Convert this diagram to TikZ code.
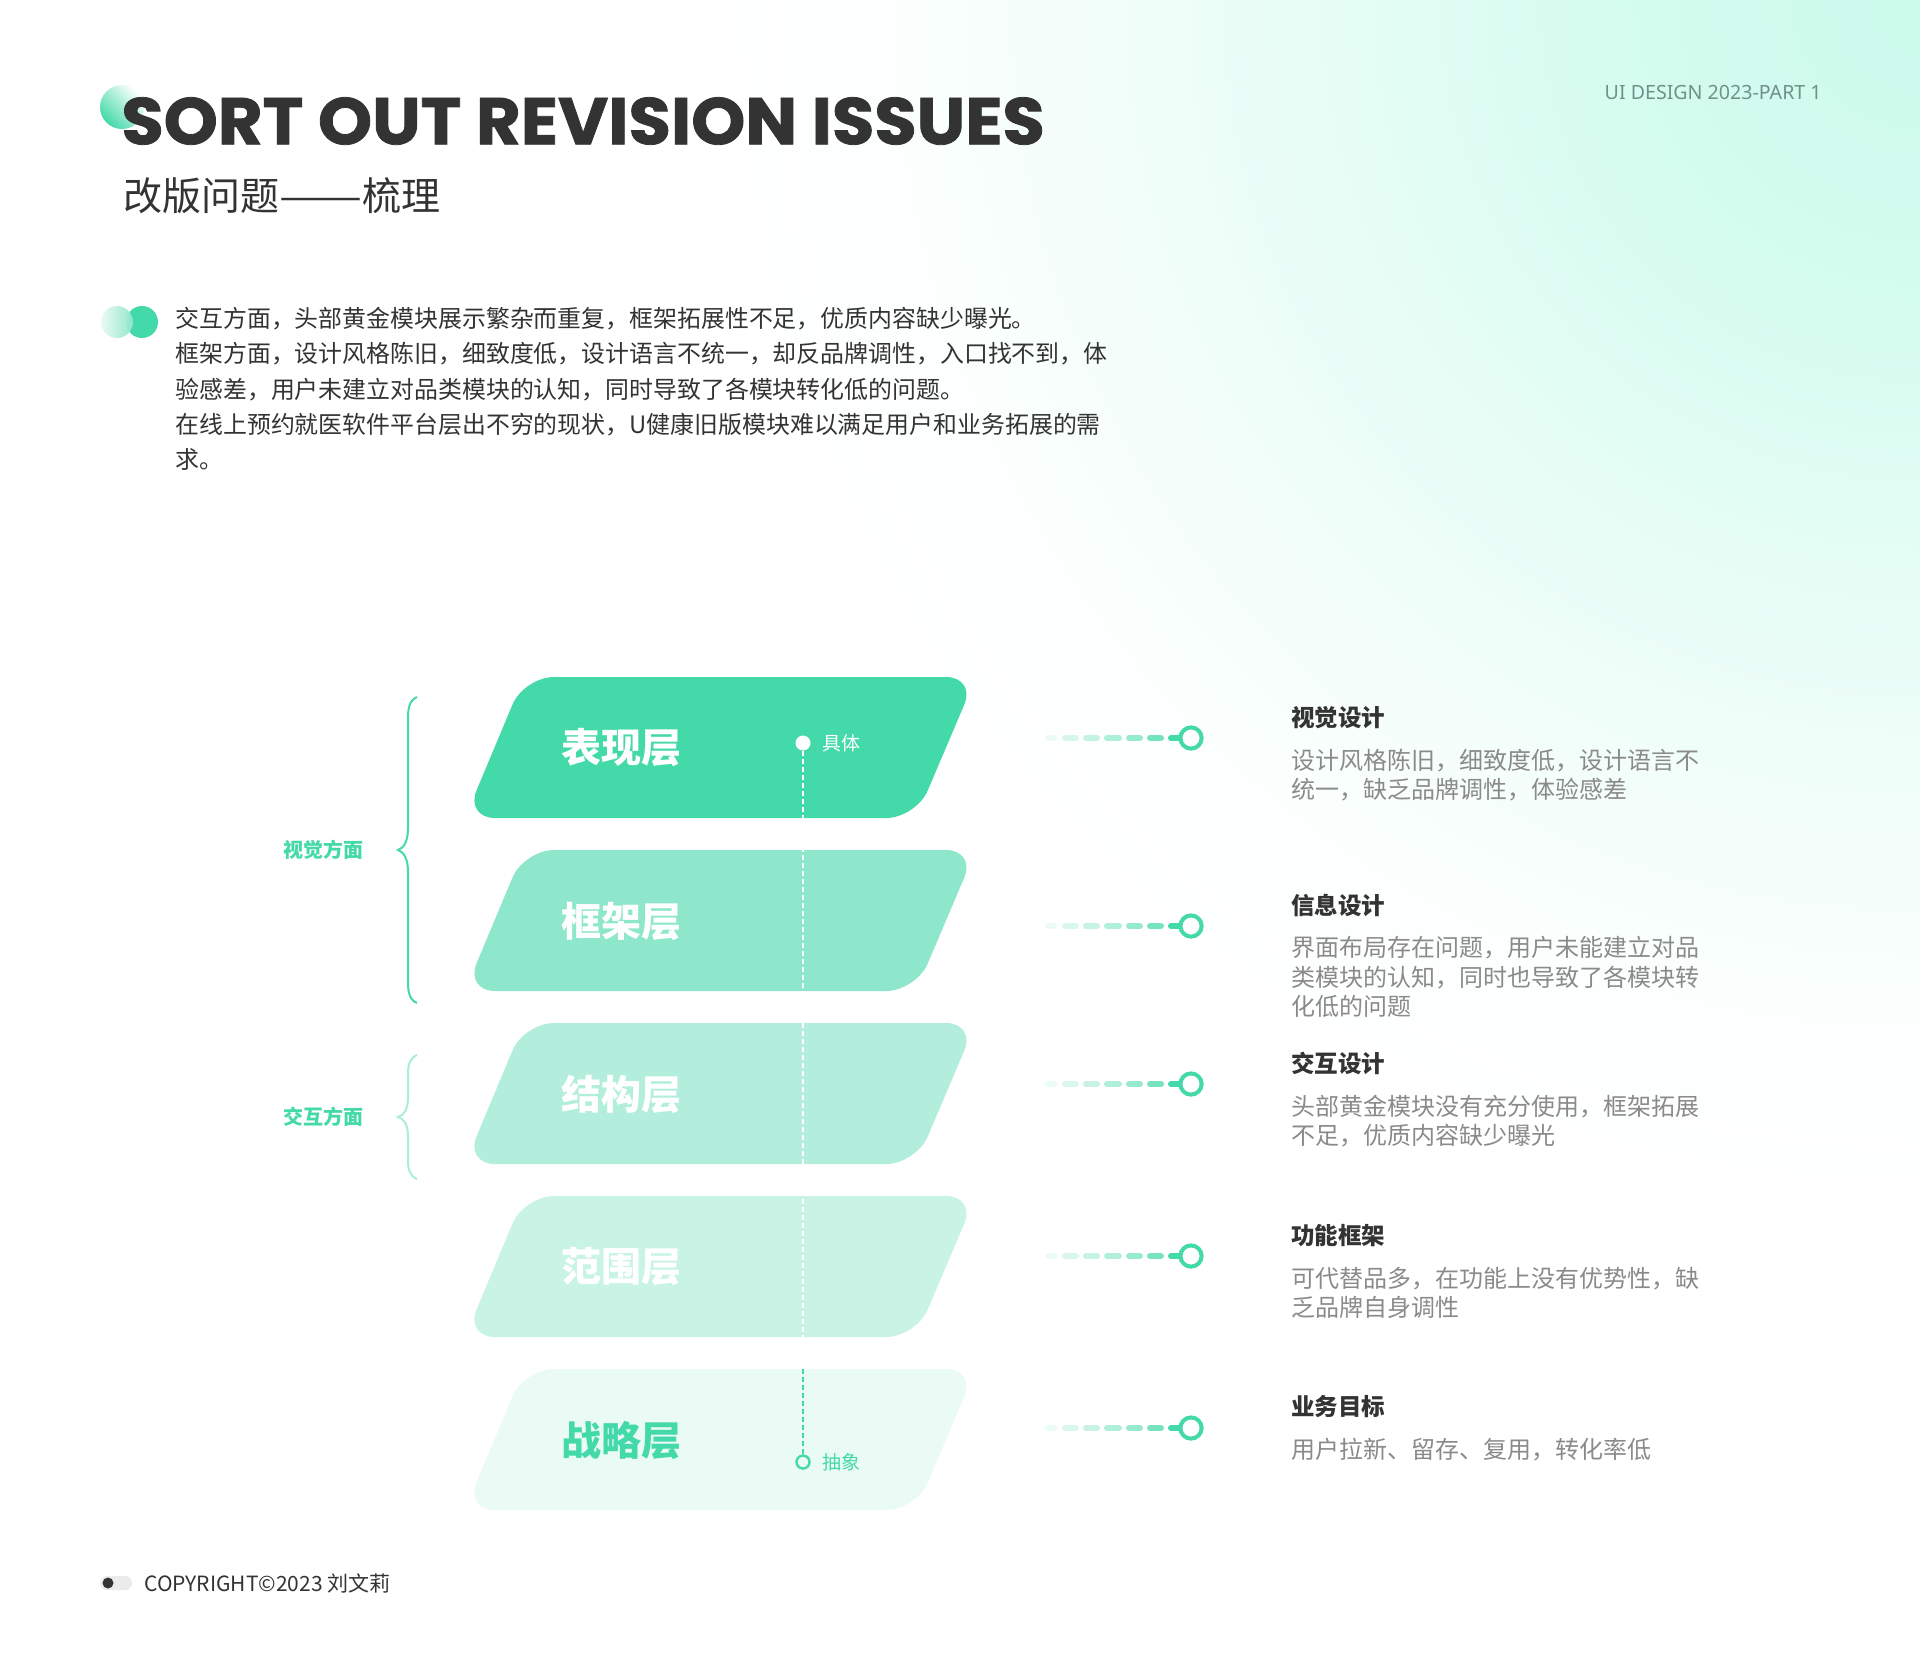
\documentclass[tikz,border=0pt]{standalone}
\usepackage{fontspec}
\setmainfont{Noto Sans CJK SC}
\newfontfamily\pop{Poppins}[BoldFeatures={FakeBold=1.2}]
\newfontfamily\nsans{Noto Sans}
\usetikzlibrary{calc}
\definecolor{g1}{HTML}{43D9A8}
\definecolor{g2}{HTML}{8EE7CA}
\definecolor{g3}{HTML}{B2EEDB}
\definecolor{g4}{HTML}{C8F3E5}
\definecolor{g5}{HTML}{EAFAF5}
\definecolor{mint}{HTML}{CCFBEC}
\definecolor{dark}{HTML}{333333}
\definecolor{gray1}{HTML}{8A8A8A}
\definecolor{tealgray}{HTML}{71908A}
\definecolor{pill}{HTML}{EBEBEB}
\pgfdeclareradialshading{bgfade}{\pgfpoint{0bp}{0bp}}{color(0bp)=(mint); color(6bp)=(mint!85!white); color(13bp)=(mint!45!white); color(20bp)=(mint!12!white); color(25bp)=(white); color(50bp)=(white)}
\tikzset{
  layer/.style={rounded corners=15pt},
  laytext/.style={font=\bfseries\fontsize{20}{24}\selectfont, inner sep=0},
  dotlab/.style={font=\fontsize{9.5}{11}\selectfont, anchor=west, inner sep=0},
  rtitle/.style={font=\bfseries\fontsize{11.75}{13}\selectfont, text=dark, anchor=west, inner sep=0},
  rbody/.style={font=\fontsize{12}{14.6}\selectfont, text=gray1, anchor=west, align=left, inner sep=0},
  ring/.style={circle, draw=g1, line width=2pt, fill=white, minimum size=10.6pt, inner sep=0},
  seg/.style={g1, line width=3pt, line cap=round},
  bracepath/.style={g1, line width=1pt},
  sidelab/.style={font=\bfseries\fontsize{10}{12}\selectfont, text=g1, inner sep=0},
}
\begin{document}
\begin{tikzpicture}[x=0.5pt,y=-0.5pt]
\useasboundingbox (0,0) rectangle (1920,1672);
\fill[white] (0,0) rectangle (1920,1672);
\begin{scope}
  \clip (0,0) rectangle (1920,1672);
  \shade[shading=bgfade] (1920,0) circle (1200);
\end{scope}

% title blob and title
\shade[left color=g1, right color=white, shading angle=135] (122,107) circle (22);
\node[anchor=west, inner sep=0, font=\pop\bfseries\fontsize{33}{40}\selectfont, text=dark] (title) at (121,121) {\scalebox{1.043}[1]{SORT OUT REVISION ISSUES}};
\node[anchor=west, inner sep=0, font=\fontsize{19.5}{24}\selectfont, text=dark] (sub) at (123,196) {改版问题\scalebox{1.27}[1]{——}梳理};
\node[anchor=east, inner sep=0, font=\nsans\fontsize{9.8}{12}\selectfont, text=tealgray] (tag) at (1822,92) {UI DESIGN 2023-PART 1};

% paragraph
\fill[g1] (142,322) circle (16);
\shade[left color=g5, right color=g2, opacity=0.95] (117,322) circle (16);
\node[anchor=west, inner sep=0, align=left, font=\fontsize{11.95}{17.6}\selectfont, text=dark] (para) at (175,389) {交互方面，头部黄金模块展示繁杂而重复，框架拓展性不足，优质内容缺少曝光。\\框架方面，设计风格陈旧，细致度低，设计语言不统一，却反品牌调性，入口找不到，体\\验感差，用户未建立对品类模块的认知，同时导致了各模块转化低的问题。\\在线上预约就医软件平台层出不穷的现状，U健康旧版模块难以满足用户和业务拓展的需\\求。};

% layers
\foreach \i/\c/\t/\tc in {0/g1/表现层/white, 1/g2/框架层/white, 2/g3/结构层/white, 3/g4/范围层/white, 4/g5/战略层/g1} {
  \pgfmathsetmacro\yt{677+173*\i}
  \fill[\c, layer] (524,\yt) -- (976,\yt) -- (916,\yt+141) -- (465,\yt+141) -- cycle;
  \node[laytext, text=\tc] (L\i) at (621,\yt+71) {\t};
}

% vertical dashed axis
\node[circle, fill=white, inner sep=0, minimum size=7.5pt] (concrete) at (803,743) {};
\node[circle, draw=g1, line width=1.2pt, fill=g5, inner sep=0, minimum size=6.5pt] (abstract) at (803,1462) {};
\coordinate (vmid) at (803,1369);
\draw[white, line width=0.9pt, dash pattern=on 2.5pt off 1.5pt] (concrete) -- (vmid);
\draw[g1, line width=0.9pt, dash pattern=on 2.5pt off 1.5pt] (vmid) -- (abstract);
\node[dotlab, text=white] (concretelab) at (822,743) {具体};
\node[dotlab, text=g1] (abstractlab) at (822,1462) {抽象};

% connectors
\foreach \i/\y in {0/738, 1/926, 2/1084, 3/1256, 4/1428} {
  \coordinate (c\i) at (1045,\y);
  \foreach \a/\b/\op in {3/9/0.1, 20/31/0.2, 41/52/0.3, 62/74/0.42, 84/95/0.55, 105/116/0.72, 126/134/1} {
    \draw[seg, opacity=\op] ($(c\i)+(\a,0)$) -- ($(c\i)+(\b,0)$);
  }
  \node[ring] (R\i) at (1191,\y) {};
}

% right texts
\node[rtitle] (t0) at (1291,718) {视觉设计};
\node[rbody] (b0) at (1291,775) {设计风格陈旧，细致度低，设计语言不\\统一，缺乏品牌调性，体验感差};
\node[rtitle] (t1) at (1291,905) {信息设计};
\node[rbody] (b1) at (1291,977) {界面布局存在问题，用户未能建立对品\\类模块的认知，同时也导致了各模块转\\化低的问题};
\node[rtitle] (t2) at (1291,1063) {交互设计};
\node[rbody] (b2) at (1291,1121) {头部黄金模块没有充分使用，框架拓展\\不足，优质内容缺少曝光};
\node[rtitle] (t3) at (1291,1236) {功能框架};
\node[rbody] (b3) at (1291,1293) {可代替品多，在功能上没有优势性，缺\\乏品牌自身调性};
\node[rtitle] (t4) at (1291,1407) {业务目标};
\node[rbody] (b4) at (1291,1450) {用户拉新、留存、复用，转化率低};

% braces
\draw[bracepath] (417,697) .. controls (410,700) and (408,707) .. (408,718) -- (408,828) .. controls (408,841) and (404,848) .. (398,850) .. controls (404,852) and (408,859) .. (408,872) -- (408,982) .. controls (408,993) and (410,1000) .. (417,1003);
\draw[bracepath, draw=g1!45] (417,1055) .. controls (410,1058) and (408,1064) .. (408,1074) -- (408,1097) .. controls (408,1110) and (404,1115) .. (398,1117) .. controls (404,1119) and (408,1124) .. (408,1137) -- (408,1160) .. controls (408,1170) and (410,1176) .. (417,1179);
\node[sidelab] (vis) at (323,850) {视觉方面};
\node[sidelab] (inter) at (323,1117) {交互方面};

% footer
\fill[pill, rounded corners=3.5pt] (100,1576) rectangle (132,1590);
\fill[dark] (108,1583) circle (5.5);
\node[anchor=west, inner sep=0, font=\fontsize{10.5}{12}\selectfont, text=dark] (copy) at (144,1583) {COPYRIGHT©2023 刘文莉};
\end{tikzpicture}
\end{document}
